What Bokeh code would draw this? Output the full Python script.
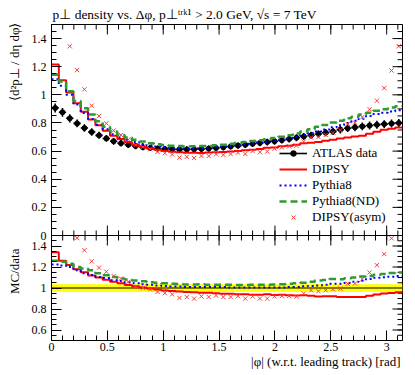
import numpy as np
from bokeh.plotting import figure
from bokeh.models import (Range1d, FixedTicker, LinearAxis, Legend, LegendItem, Title, Span)
from bokeh.layouts import column, row
from bokeh.embed import file_html
from bokeh.resources import INLINE

# ---------------- data ----------------
n_bins = 48
phi_max = np.pi

atlas_data = [0.907, 0.876, 0.833, 0.797, 0.764, 0.736, 0.712, 0.690, 0.670, 0.656,
              0.645, 0.636, 0.628, 0.622, 0.618, 0.615, 0.613, 0.612, 0.612, 0.613,
              0.615, 0.618, 0.622, 0.627, 0.633, 0.639, 0.645, 0.652, 0.658, 0.664,
              0.670, 0.678, 0.686, 0.695, 0.704, 0.713, 0.722, 0.731, 0.740, 0.753,
              0.762, 0.769, 0.776, 0.782, 0.787, 0.792, 0.796, 0.800]
atlas_err = [0.032, 0.031, 0.029, 0.028, 0.027, 0.026, 0.025, 0.024, 0.024, 0.023,
             0.023, 0.022, 0.022, 0.022, 0.022, 0.022, 0.022, 0.022, 0.022, 0.022,
             0.022, 0.022, 0.022, 0.022, 0.022, 0.023, 0.023, 0.023, 0.023, 0.024,
             0.024, 0.024, 0.024, 0.025, 0.025, 0.025, 0.026, 0.026, 0.026, 0.027,
             0.027, 0.027, 0.028, 0.028, 0.028, 0.028, 0.029, 0.029]
dipsy = [1.215, 1.104, 1.016, 0.940, 0.879, 0.824, 0.783, 0.745, 0.710, 0.686,
         0.664, 0.646, 0.631, 0.619, 0.609, 0.600, 0.595, 0.591, 0.588, 0.588,
         0.587, 0.590, 0.591, 0.593, 0.598, 0.601, 0.606, 0.610, 0.615, 0.624,
         0.626, 0.634, 0.638, 0.646, 0.655, 0.660, 0.664, 0.673, 0.681, 0.689,
         0.696, 0.704, 0.710, 0.724, 0.738, 0.751, 0.759, 0.767]
pythia8 = [1.111, 1.064, 1.000, 0.932, 0.871, 0.828, 0.787, 0.756, 0.720, 0.699,
           0.680, 0.665, 0.650, 0.641, 0.633, 0.627, 0.622, 0.621, 0.618, 0.619,
           0.621, 0.624, 0.628, 0.633, 0.636, 0.642, 0.648, 0.655, 0.661, 0.667,
           0.673, 0.681, 0.693, 0.702, 0.715, 0.727, 0.740, 0.753, 0.770, 0.783,
           0.799, 0.815, 0.830, 0.849, 0.864, 0.873, 0.882, 0.891]
pythia8_nd = [1.143, 1.095, 1.025, 0.956, 0.905, 0.861, 0.812, 0.773, 0.740, 0.715,
              0.697, 0.681, 0.669, 0.656, 0.649, 0.643, 0.638, 0.636, 0.633, 0.634,
              0.637, 0.637, 0.641, 0.646, 0.652, 0.658, 0.664, 0.672, 0.678, 0.684,
              0.693, 0.702, 0.713, 0.726, 0.739, 0.756, 0.773, 0.786, 0.803, 0.816,
              0.833, 0.845, 0.861, 0.872, 0.887, 0.897, 0.910, 0.919]
dipsy_asym = [1.800, 1.560, 1.345, 1.176, 1.039, 0.923, 0.850, 0.797, 0.746, 0.715,
              0.682, 0.642, 0.628, 0.613, 0.595, 0.585, 0.576, 0.554, 0.559, 0.551,
              0.566, 0.565, 0.578, 0.573, 0.579, 0.589, 0.580, 0.600, 0.592, 0.597,
              0.617, 0.626, 0.634, 0.638, 0.667, 0.697, 0.700, 0.715, 0.731, 0.749,
              0.793, 0.802, 0.841, 0.897, 0.958, 1.048, 1.173, 1.345]

main_yticks = [0, 0.2, 0.4, 0.6, 0.8, 1.0, 1.2, 1.4]
main_ytick_labels = ["0", "0.2", "0.4", "0.6", "0.8", "1", "1.2", "1.4"]
ratio_yticks = [0.6, 0.8, 1.0, 1.2, 1.4]
ratio_ytick_labels = ["0.6", "0.8", "1", "1.2", "1.4"]
xticks = [0, 0.5, 1.0, 1.5, 2.0, 2.5, 3.0]
xtick_labels = ["0", "0.5", "1", "1.5", "2", "2.5", "3"]

title_text = "p\u22a5 density vs. \u0394\u03c6, p\u22a5\u1d57\u02b3\u1d4f\u00b9 > 2.0 GeV, \u221as = 7 TeV"
ylabel_main = "\u27e8d\u00b2p\u22a5 / d\u03b7 d\u03c6\u27e9"
ylabel_ratio = "MC/data"
xlabel_text = "|\u03c6| (w.r.t. leading track) [rad]"
legend_labels = ["ATLAS data", "DIPSY", "Pythia8", "Pythia8(ND)", "DIPSY(asym)"]

# ---------------- derived arrays ----------------
data = np.array(atlas_data)
err = np.array(atlas_err)
edges = np.linspace(0, phi_max, n_bins + 1)
centers = 0.5 * (edges[:-1] + edges[1:])
half = 0.5 * (edges[1] - edges[0])


def stepy(v):
    v = np.asarray(v, dtype=float)
    return np.append(v, v[-1])


FONT = "Liberation Serif"
RED = "#ff0000"
BLUE = "#0000ff"
GREEN = "#2f9a2f"
XRED = "#ff3b3b"

# ---------------- geometry (pixels) ----------------
STRIP = 26                 # strip on the left that carries the rotated y titles
W = 414 - STRIP
LEFT, RIGHT = 51 - STRIP, 12
FRAME_W = W - LEFT - RIGHT
TOP, MAIN_H, RATIO_H, BOTTOM = 24, 211, 105, 34
H = TOP + MAIN_H + RATIO_H + BOTTOM
MAJ, MIN = 10, 5

MAIN_PX = MAIN_H / 1.5     # px per unit of the main y scale
RATIO_PX = RATIO_H / 1.0   # px per unit of the ratio y scale
main_start = 1.5 - (MAIN_H + RATIO_H) / MAIN_PX
ratio_end = 0.5 + (MAIN_H + RATIO_H) / RATIO_PX
XPX = FRAME_W / phi_max


def ratio_to_main(r):
    return main_start + (np.asarray(r, dtype=float) - 0.5) * RATIO_PX / MAIN_PX


x_minor = [float(m) for m in np.round(np.arange(0, 3.15, 0.1), 2)]
main_minor = [float(m) for m in np.round(np.arange(0, 1.51, 0.05), 2)]
ratio_minor = [float(m) for m in np.round(np.arange(0.5, 1.49, 0.05), 2)]

# ---------------- plot ----------------
p = figure(width=W, height=H, x_range=Range1d(0, phi_max),
           y_range=Range1d(main_start, 1.5),
           output_backend="svg", toolbar_location=None,
           x_axis_location=None, y_axis_location=None,
           min_border_left=LEFT, min_border_right=RIGHT, min_border_top=TOP,
           min_border_bottom=BOTTOM)
p.extra_y_ranges = {"ratio": Range1d(0.5, ratio_end)}
p.grid.visible = False
p.outline_line_color = "black"
p.background_fill_color = "white"
p.border_fill_color = "white"
p.title.text = title_text
p.title.align = "left"
p.title.offset = 1
p.title.standoff = 5
p.title.text_font = FONT
p.title.text_font_size = "13.5px"
p.title.text_font_style = "normal"
p.title.text_color = "black"


def style_axis(ax):
    ax.major_tick_in = MAJ
    ax.major_tick_out = 0
    ax.minor_tick_in = MIN
    ax.minor_tick_out = 0
    ax.axis_line_color = "black"
    ax.major_tick_line_color = "black"
    ax.minor_tick_line_color = "black"
    ax.major_label_text_font = FONT
    ax.major_label_text_font_size = "12px"
    ax.major_label_text_color = "black"


# left axis: main ticks and ratio ticks on one scale
ratio_pos = [float(v) for v in ratio_to_main(ratio_yticks)]
left_ticks = [float(t) for t in main_yticks] + ratio_pos
left_minor = main_minor + [float(v) for v in ratio_to_main(ratio_minor)]
left = LinearAxis(ticker=FixedTicker(ticks=left_ticks, minor_ticks=left_minor))
left.major_label_overrides = dict(zip(left_ticks, main_ytick_labels + ratio_ytick_labels))
style_axis(left)
left.major_label_standoff = 5
p.add_layout(left, "left")

bottom = LinearAxis(ticker=FixedTicker(ticks=xticks, minor_ticks=x_minor))
bottom.major_label_overrides = {t: l for t, l in zip(xticks, xtick_labels)}
style_axis(bottom)
bottom.major_label_standoff = 2
p.add_layout(bottom, "below")
p.add_layout(Title(text=xlabel_text, align="right", offset=2, standoff=0, vertical_align="top",
                   text_font=FONT, text_font_size="13px", text_font_style="normal",
                   text_color="black"), "below")


def seg(x0, y0, x1, y1, **kw):
    n = max(np.size(x0), np.size(y0), np.size(x1), np.size(y1))
    p.segment(x0=np.broadcast_to(x0, n), y0=np.broadcast_to(y0, n),
              x1=np.broadcast_to(x1, n), y1=np.broadcast_to(y1, n),
              line_color="black", line_width=1, **kw)


xm = np.array(xticks, dtype=float)
xn = np.array(x_minor)
# mirrored inward ticks: top of main, bottom of main, top of ratio, right sides
seg(xm, 1.5, xm, 1.5 - MAJ / MAIN_PX)
seg(xn, 1.5, xn, 1.5 - MIN / MAIN_PX)
seg(xm, 0.0, xm, MAJ / MAIN_PX)
seg(xn, 0.0, xn, MIN / MAIN_PX)
seg(xm, 1.5, xm, 1.5 - MAJ / RATIO_PX, y_range_name="ratio")
seg(xn, 1.5, xn, 1.5 - MIN / RATIO_PX, y_range_name="ratio")
seg(phi_max, np.array(main_yticks, float), phi_max - MAJ / XPX, np.array(main_yticks, float))
seg(phi_max, np.array(main_minor), phi_max - MIN / XPX, np.array(main_minor))
seg(phi_max, np.array(ratio_yticks, float), phi_max - MAJ / XPX, np.array(ratio_yticks, float),
    y_range_name="ratio")
seg(phi_max, np.array(ratio_minor), phi_max - MIN / XPX, np.array(ratio_minor),
    y_range_name="ratio")
p.add_layout(Span(location=0, dimension="width", line_color="black", line_width=1))

# ---- main panel series ----
r_hbar = p.segment(x0=centers - half, y0=data, x1=centers + half, y1=data,
                   line_color="black", line_width=1.6)
p.segment(x0=centers, y0=data - err, x1=centers, y1=data + err,
          line_color="black", line_width=1.6)
r_dot = p.scatter(centers, data, size=5, color="black")
r_dipsy = p.step(x=edges, y=stepy(dipsy), mode="after", line_color=RED, line_width=2)
r_py = p.step(x=edges, y=stepy(pythia8), mode="after", line_color=BLUE, line_width=2,
              line_dash="2 3")
r_nd = p.step(x=edges, y=stepy(pythia8_nd), mode="after", line_color=GREEN, line_width=2.5,
              line_dash="7 4")
r_asym = p.scatter(centers, dipsy_asym, marker="x", size=6, line_color=XRED, line_width=1)

# ---- ratio panel series ----
rel = err / data
p.varea_step(x=edges, y1=stepy(1 - rel), y2=stepy(1 + rel), step_mode="after",
             fill_color="#ffff00", y_range_name="ratio")
p.line(x=[0, phi_max], y=[1, 1], line_color="black", line_width=1, y_range_name="ratio")
p.step(x=edges, y=stepy(np.array(dipsy) / data), mode="after", line_color=RED, line_width=2,
       y_range_name="ratio")
p.step(x=edges, y=stepy(np.array(pythia8) / data), mode="after", line_color=BLUE,
       line_width=2, line_dash="2 3", y_range_name="ratio")
p.step(x=edges, y=stepy(np.array(pythia8_nd) / data), mode="after", line_color=GREEN,
       line_width=2.5, line_dash="7 4", y_range_name="ratio")
asym_ratio = np.array(dipsy_asym) / data
shown = asym_ratio <= 1.5
p.scatter(centers[shown], asym_ratio[shown], marker="x", size=6, line_color=XRED,
          line_width=1, y_range_name="ratio")

legend = Legend(items=[
    LegendItem(label=legend_labels[0], renderers=[r_hbar, r_dot]),
    LegendItem(label=legend_labels[1], renderers=[r_dipsy]),
    LegendItem(label=legend_labels[2], renderers=[r_py]),
    LegendItem(label=legend_labels[3], renderers=[r_nd]),
    LegendItem(label=legend_labels[4], renderers=[r_asym]),
], location=(228, 115))
legend.glyph_width = 28
legend.glyph_height = 14
legend.label_height = 14
legend.label_standoff = 5
legend.spacing = 0
legend.padding = 0
legend.margin = 0
legend.background_fill_alpha = 0
legend.border_line_alpha = 0
legend.label_text_font = FONT
legend.label_text_font_size = "13px"
legend.label_text_color = "black"
p.add_layout(legend)


# ---------------- strips carrying the rotated y titles ----------------
def strip(height, top, bottom_border, text, offset):
    s = figure(width=STRIP, height=height, output_backend="svg", toolbar_location=None,
               x_axis_location=None, y_axis_location=None,
               min_border_left=STRIP - 2, min_border_right=0, min_border_top=top,
               min_border_bottom=bottom_border)
    s.grid.visible = False
    s.outline_line_color = None
    s.background_fill_color = "white"
    s.border_fill_color = "white"
    s.add_layout(Title(text=text, align="right", offset=offset, standoff=6,
                       vertical_align="bottom", text_font=FONT, text_font_size="13px",
                       text_font_style="normal", text_color="black"), "left")
    return s


s1 = strip(TOP + MAIN_H, TOP, 0, ylabel_main, -2)
s2 = strip(RATIO_H + BOTTOM, 0, BOTTOM, ylabel_ratio, 13)

layout = row(column(s1, s2, spacing=0), p, spacing=0)
open("out.html", "w").write(file_html(layout, INLINE))
